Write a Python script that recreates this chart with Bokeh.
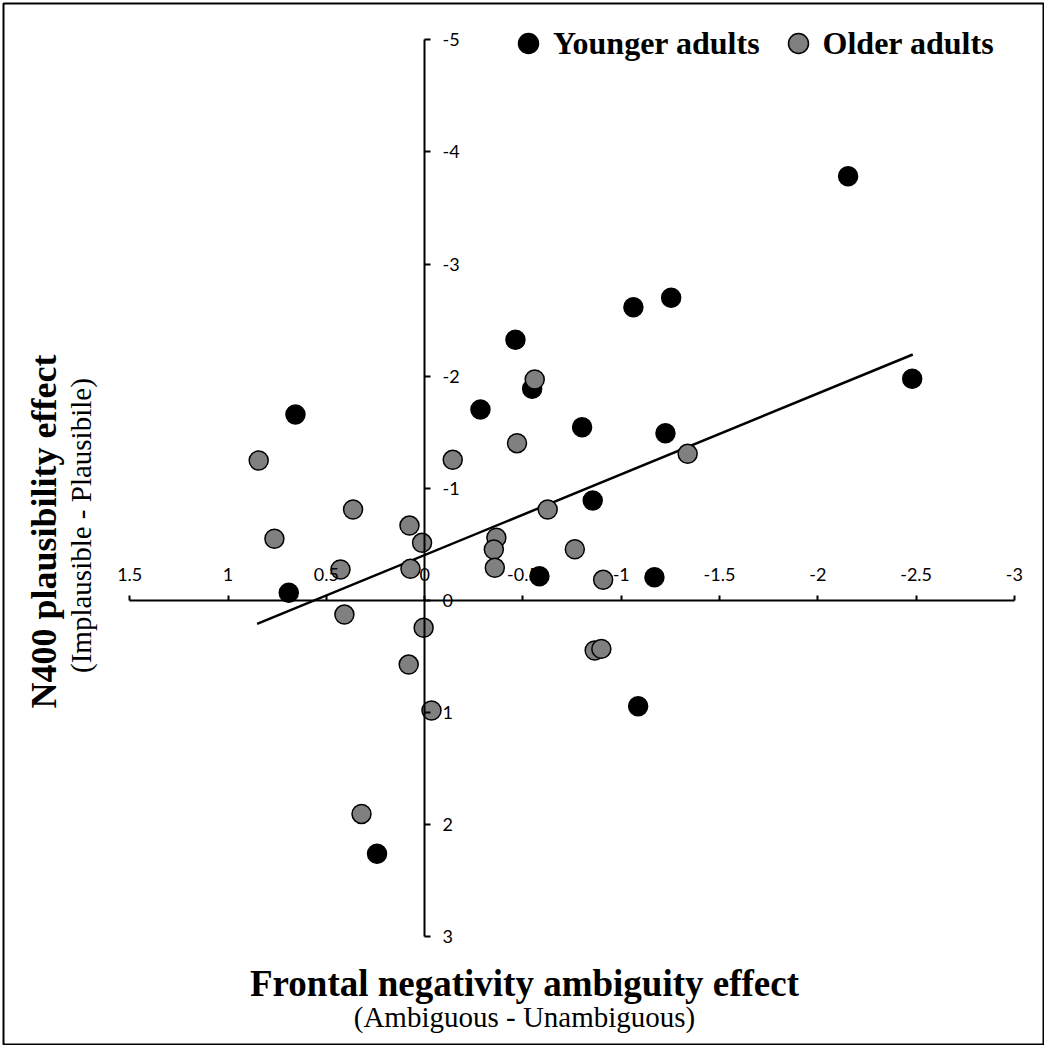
import math
from bokeh.plotting import figure
from bokeh.models import (Range1d, LinearAxis, FixedTicker, NumeralTickFormatter,
                          Label, Legend, LegendItem)
from bokeh.embed import file_html
from bokeh.resources import INLINE

# ---- data ----
younger_x = [-2.154, -1.254, -1.062, -0.462, -0.547, -0.284, -0.801, -1.225,
             -2.480, -0.855, -0.584, -1.169, -1.086, 0.657, 0.691, 0.242]
younger_y = [-3.783, -2.699, -2.615, -2.324, -1.887, -1.702, -1.544, -1.491,
             -1.976, -0.890, -0.215, -0.206, 0.945, -1.657, -0.067, 2.261]

older_x = [-0.560, -0.470, -0.143, -1.338, -0.626, -0.365, -0.352, -0.357,
           -0.764, -0.908, 0.844, 0.764, 0.364, 0.077, 0.013, 0.072,
           0.428, 0.408, 0.005, 0.081, -0.035, 0.321, -0.865, -0.899]
older_y = [-1.970, -1.402, -1.253, -1.307, -0.810, -0.558, -0.453, -0.290,
           -0.456, -0.183, -1.247, -0.549, -0.810, -0.667, -0.513, -0.281,
           -0.275, 0.127, 0.245, 0.573, 0.983, 1.905, 0.448, 0.433]

trend_x = [0.852, -2.483]
trend_y = [0.210, -2.193]

x_ticks = [1.5, 1, 0.5, 0, -0.5, -1, -1.5, -2, -2.5, -3]
y_ticks = [-5, -4, -3, -2, -1, 0, 1, 2, 3]

series_names = ["Younger adults", "Older adults"]

x_title = "Frontal negativity ambiguity effect"
x_subtitle = "(Ambiguous - Unambiguous)"
y_title = "N400 plausibility effect"
y_subtitle = "(Implausible - Plausibile)"

# ---- figure ----
W, H = 1044, 1045
p = figure(width=W, height=H, output_backend="svg", toolbar_location=None,
           x_range=Range1d(2.142, -3.153), y_range=Range1d(3.971, -5.324),
           x_axis_type=None, y_axis_type=None,
           min_border_left=3, min_border_top=3, min_border_right=0, min_border_bottom=0)
p.outline_line_color = "black"
p.outline_line_width = 2
p.background_fill_color = "white"
p.border_fill_color = "white"

tick_font = "Lato"

xaxis = LinearAxis(fixed_location=0, bounds=(min(x_ticks), max(x_ticks)),
                   ticker=FixedTicker(ticks=x_ticks),
                   formatter=NumeralTickFormatter(format="0.[0]"))
xaxis.axis_line_width = 2
xaxis.axis_line_color = "black"
xaxis.major_tick_line_width = 2
xaxis.major_tick_line_color = "black"
xaxis.major_tick_out = 5
xaxis.major_tick_in = 0
xaxis.minor_tick_out = 0
xaxis.minor_tick_in = 0
xaxis.major_label_standoff = 14
xaxis.major_label_text_font = tick_font
xaxis.major_label_text_font_size = "18px"
xaxis.major_label_text_color = "black"
p.add_layout(xaxis, "above")

yaxis = LinearAxis(fixed_location=0, bounds=(min(y_ticks), max(y_ticks)),
                   ticker=FixedTicker(ticks=y_ticks),
                   formatter=NumeralTickFormatter(format="0.[0]"))
yaxis.axis_line_width = 2
yaxis.axis_line_color = "black"
yaxis.major_tick_line_width = 2
yaxis.major_tick_line_color = "black"
yaxis.major_tick_out = 6
yaxis.major_tick_in = 0
yaxis.minor_tick_out = 0
yaxis.minor_tick_in = 0
yaxis.major_label_standoff = 12
yaxis.major_label_text_font = tick_font
yaxis.major_label_text_font_size = "18px"
yaxis.major_label_text_color = "black"
p.add_layout(yaxis, "right")

# trend line
p.line(trend_x, trend_y, line_color="black", line_width=2.5)

# scatter
r_young = p.scatter(younger_x, younger_y, size=19, fill_color="black",
                    line_color="black", line_width=1.5)
r_old = p.scatter(older_x, older_y, size=19, fill_color="#808080",
                  line_color="black", line_width=1.5)

legend = Legend(items=[LegendItem(label=series_names[0], renderers=[r_young]),
                       LegendItem(label=series_names[1], renderers=[r_old])],
                orientation="horizontal", location=(500, 977),
                glyph_width=50, glyph_height=50, label_standoff=-4,
                spacing=13, padding=0, margin=0,
                border_line_color=None, background_fill_alpha=0,
                label_text_font="Liberation Serif", label_text_font_style="bold",
                label_text_font_size="32px", label_text_color="black")
p.add_layout(legend)

serif = "Liberation Serif"
p.add_layout(Label(x=-0.508, y=3.419, text=x_title, text_align="center",
                   text_baseline="alphabetic", text_font=serif, text_color="black",
                   text_font_style="bold", text_font_size="37px"))
p.add_layout(Label(x=-0.508, y=3.715, text=x_subtitle, text_align="center",
                   text_baseline="alphabetic", text_font=serif, text_color="black",
                   text_font_size="29px"))
p.add_layout(Label(x=1.934, y=-0.614, text=y_title, text_align="center",
                   text_baseline="alphabetic", text_font=serif, angle=math.pi / 2,
                   text_color="black", text_font_style="bold", text_font_size="36px"))
p.add_layout(Label(x=1.746, y=-0.667, text=y_subtitle, text_align="center",
                   text_baseline="alphabetic", text_font=serif, angle=math.pi / 2,
                   text_color="black", text_font_size="29px"))

open("out.html", "w").write(file_html(p, INLINE))
